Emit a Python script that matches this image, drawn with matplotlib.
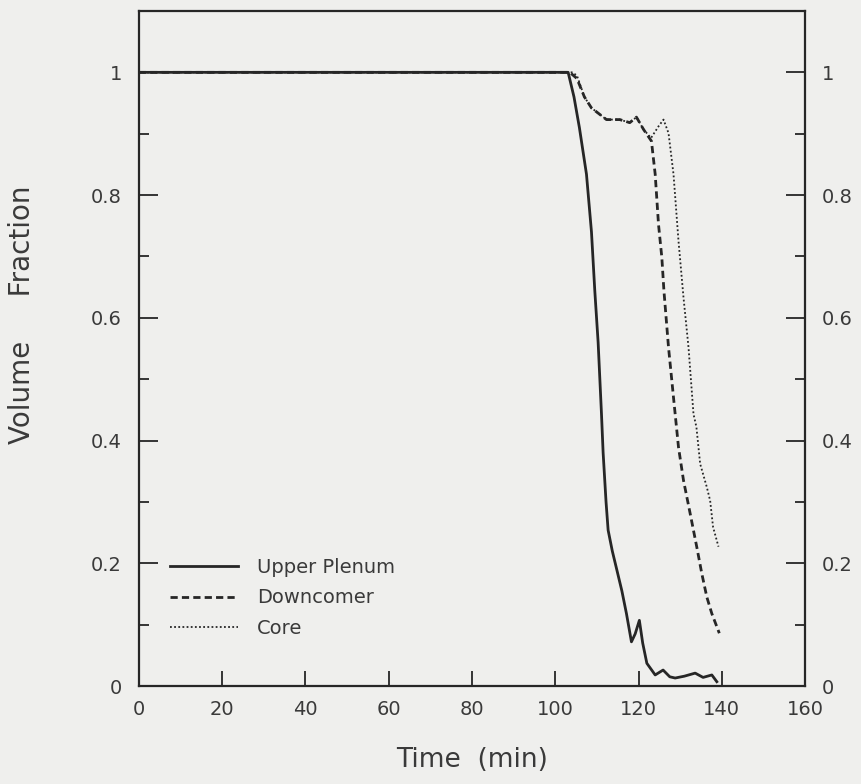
import numpy as np
import matplotlib.pyplot as plt
from matplotlib.ticker import MultipleLocator, FuncFormatter

# Upper Plenum
t_plenum = [0, 103.1, 104.5, 105.8, 107.5, 108.7, 109.5, 110.3, 111.1, 111.5, 112.2, 112.7,
            113.7, 114.8, 116, 117.1, 118.3, 119.2, 120.2, 121, 122, 124, 125.9, 127.5,
            128.8, 131, 133.6, 135.5, 137.6, 138.8]
v_plenum = [1.0, 1.0, 0.96, 0.91, 0.834, 0.74, 0.644, 0.56, 0.444, 0.38, 0.3, 0.254,
            0.22, 0.189, 0.155, 0.118, 0.072, 0.085, 0.107, 0.07, 0.037, 0.018, 0.026, 0.015,
            0.013, 0.016, 0.021, 0.014, 0.018, 0.007]

# Downcomer
t_down = [0, 103.5, 105.2, 107, 108.7, 112.3, 115.5, 117.9, 119.5, 121.2, 123.1, 124, 124.8,
          125.6, 126.1, 127.2, 128.4, 129.6, 130.8, 132.4, 134, 135.2, 136.4, 137.6, 139.4]
v_down = [1.0, 1.0, 0.99, 0.96, 0.942, 0.923, 0.923, 0.918, 0.927, 0.907, 0.888, 0.834, 0.752,
          0.698, 0.644, 0.552, 0.47, 0.389, 0.335, 0.281, 0.226, 0.183, 0.145, 0.118, 0.086]

# Core
t_core = [0, 104, 105.2, 107, 108.7, 112.3, 115.5, 117.9, 119.5, 121.2, 123, 124.8, 126,
          127.2, 128.4, 129.6, 130.8, 132, 133.2, 133.9, 134.8, 136.4, 137.2, 137.9, 139.2]
v_core = [1.0, 1.0, 0.995, 0.96, 0.942, 0.923, 0.923, 0.918, 0.927, 0.907, 0.893, 0.912, 0.923,
          0.901, 0.834, 0.725, 0.633, 0.552, 0.443, 0.422, 0.362, 0.324, 0.302, 0.259, 0.227]

bg = "#efefed"
ink = "#262626"
txt = "#3a3a3a"

fig = plt.figure(figsize=(8.62, 7.84), dpi=100, facecolor=bg)
ax = fig.add_axes([0.161, 0.125, 0.773, 0.861], facecolor=bg)

ax.plot(t_plenum, v_plenum, color=ink, lw=2.0, ls="-", label="Upper Plenum")
ax.plot(t_down, v_down, color=ink, lw=2.0, ls=(0, (2.6, 1.5)), label="Downcomer")
ax.plot(t_core, v_core, color=ink, lw=1.3, ls=(0, (1, 1.3)), label="Core")

ax.set_xlim(0, 160)
ax.set_ylim(0, 1.1)
ax.xaxis.set_major_locator(MultipleLocator(20))
ax.yaxis.set_major_locator(MultipleLocator(0.2))
ax.yaxis.set_minor_locator(MultipleLocator(0.1))
ax.yaxis.set_major_formatter(FuncFormatter(lambda v, p: "0" if v == 0 else ("1" if abs(v - 1) < 1e-9 else f"{v:.1f}")))

ax.tick_params(axis="both", which="both", direction="in", color=ink, labelcolor=txt, labelsize=14, width=1.3)
ax.tick_params(axis="y", which="both", right=True, labelright=True)
ax.tick_params(axis="y", which="major", length=14, pad=12)
ax.tick_params(axis="y", which="minor", length=7)
ax.tick_params(axis="x", which="major", length=11, pad=10)
for s in ax.spines.values():
    s.set_linewidth(1.6)
    s.set_color(ink)

ax.set_xlabel("Time  (min)", fontsize=19, color=txt, labelpad=20)
ax.set_ylabel("Volume     Fraction", fontsize=20, color=txt)
ax.yaxis.set_label_coords(-0.155, 0.55)

ax.legend(loc="lower left", bbox_to_anchor=(0.02, 0.045), frameon=False, fontsize=14,
          handlelength=3.5, handletextpad=1.0, labelspacing=0.6, labelcolor=txt)

fig.savefig("out.png", dpi=100, facecolor=bg)
